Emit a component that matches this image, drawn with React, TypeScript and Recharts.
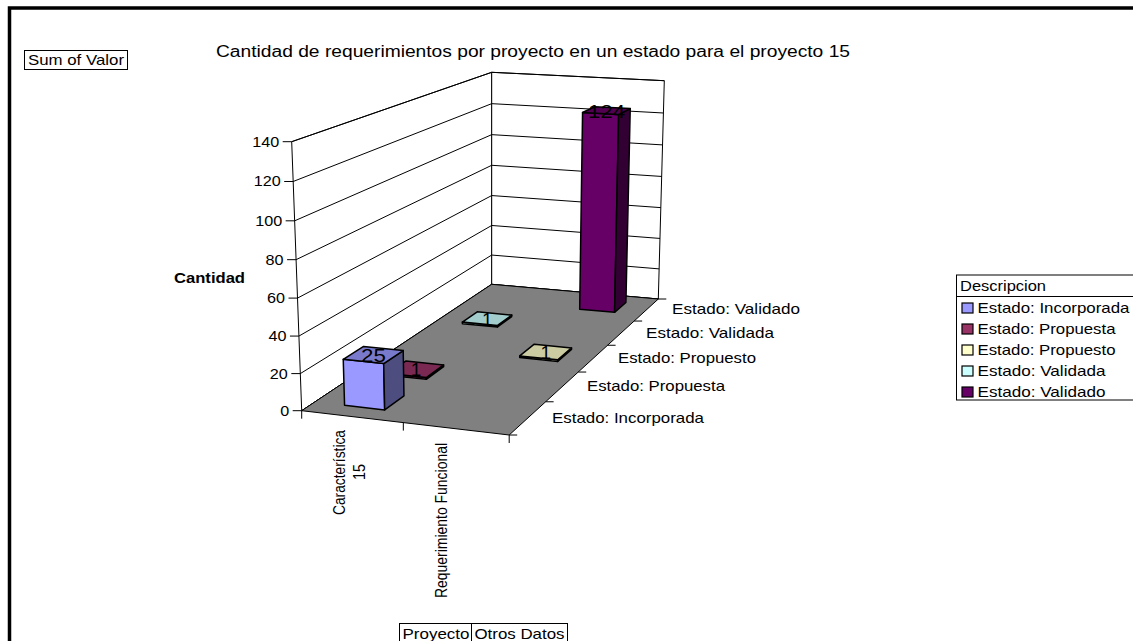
import React from "react";
import { ComposedChart, Bar, XAxis, YAxis, Customized } from "recharts";

const FONT = '"Liberation Sans", Arial, sans-serif';
const CHART_W = 1133;
const CHART_H = 641;

// Pivot table contents
const categories = ["Característica 15", "Requerimiento Funcional"];
const seriesNames = [
  "Estado: Incorporada",
  "Estado: Propuesta",
  "Estado: Propuesto",
  "Estado: Validada",
  "Estado: Validado",
];
const seriesColors = ["#9999FF", "#993366", "#FFFFCC", "#CCFFFF", "#660066"];
const caracteristicaValues = [25, 1, null, 1, null];
const requerimientoValues = [null, null, 1, null, 124];
const valueTicks = [0, 20, 40, 60, 80, 100, 120, 140];
const VALUE_MAX = 140;

const rows = categories.map((name, c) => {
  const source = c === 0 ? caracteristicaValues : requerimientoValues;
  const row: Record<string, string | number | null> = { name };
  seriesNames.forEach((s, i) => {
    row[s] = source[i];
  });
  return row;
});

// Perspective box: the floor and the ceiling planes as quadrilaterals
type Pt = [number, number];
const FLOOR: Pt[] = [
  [301.7, 410.7],
  [509.2, 435],
  [658.3, 299],
  [491.7, 284.3],
];
const CEILING: Pt[] = [
  [291.7, 141.7],
  [510, 156],
  [664.3, 80.7],
  [491.7, 72.3],
];
const PLOT_TOP = 141.7;
const PLOT_BOTTOM = 410.7;
const PLOT_H = PLOT_BOTTOM - PLOT_TOP;
const HEIGHT_BEND = 0.96;

function quadMap(q: Pt[]) {
  const [[x0, y0], [x1, y1], [x2, y2], [x3, y3]] = q;
  const dx1 = x1 - x2;
  const dx2 = x3 - x2;
  const sx = x0 - x1 + x2 - x3;
  const dy1 = y1 - y2;
  const dy2 = y3 - y2;
  const sy = y0 - y1 + y2 - y3;
  const det = dx1 * dy2 - dx2 * dy1;
  const g = (sx * dy2 - dx2 * sy) / det;
  const h = (dx1 * sy - sx * dy1) / det;
  const a = x1 - x0 + g * x1;
  const b = x3 - x0 + h * x3;
  const d = y1 - y0 + g * y1;
  const e = y3 - y0 + h * y3;
  return (u: number, v: number): Pt => {
    const k = g * u + h * v + 1;
    return [(a * u + b * v + x0) / k, (d * u + e * v + y0) / k];
  };
}
const floorAt = quadMap(FLOOR);
const ceilingAt = quadMap(CEILING);

// u: across categories, v: depth through series, w: share of the value range
function project(u: number, v: number, w: number): Pt {
  const f = floorAt(u, v);
  const c = ceilingAt(u, v);
  const t = (HEIGHT_BEND * w) / (1 + (HEIGHT_BEND - 1) * w);
  return [f[0] + (c[0] - f[0]) * t, f[1] + (c[1] - f[1]) * t];
}

const poly = (pts: Pt[]) => pts.map((p) => `${p[0].toFixed(2)},${p[1].toFixed(2)}`).join(" ");

function shade(hex: string, k: number) {
  const n = parseInt(hex.slice(1), 16);
  const ch = (s: number) => Math.round(((n >> s) & 255) * k);
  return `rgb(${ch(16)},${ch(8)},${ch(0)})`;
}

// Stretched chart text keeps the widths of the original layout
function Label(props: any) {
  const { x, y, w, size = 15, weight, anchor, rotate, fill = "#000" } = props;
  return (
    <text
      x={x}
      y={y}
      fontFamily={FONT}
      fontSize={size}
      fontWeight={weight}
      fill={fill}
      textAnchor={anchor}
      textLength={w}
      lengthAdjust={w ? "spacingAndGlyphs" : undefined}
      transform={rotate ? `rotate(${rotate} ${x} ${y})` : undefined}
    >
      {props.children}
    </text>
  );
}

function Walls() {
  const line = (a: Pt, b: Pt, key: string, width = 1) => (
    <line key={key} x1={a[0]} y1={a[1]} x2={b[0]} y2={b[1]} stroke="#000" strokeWidth={width} />
  );
  return (
    <g>
      <polygon
        points={poly([project(0, 0, 0), project(0, 0, 1), project(0, 1, 1), project(0, 1, 0)])}
        fill="#fff"
        stroke="#000"
      />
      <polygon
        points={poly([project(0, 1, 0), project(0, 1, 1), project(1, 1, 1), project(1, 1, 0)])}
        fill="#fff"
        stroke="#000"
      />
      {valueTicks.map((t) => {
        const w = t / VALUE_MAX;
        return (
          <g key={t}>
            {line(project(0, 0, w), project(0, 1, w), `l${t}`)}
            {line(project(0, 1, w), project(1, 1, w), `b${t}`)}
          </g>
        );
      })}
      <polygon
        points={poly([project(0, 0, 0), project(1, 0, 0), project(1, 1, 0), project(0, 1, 0)])}
        fill="#808080"
        stroke="#000"
      />
      {[0, 0.5, 1].map((u) => {
        const p = project(u, 0, 0);
        return line(p, [p[0], p[1] + 8], `c${u}`);
      })}
      {seriesNames.map((_, i) => {
        const p = project(1, i / seriesNames.length, 0);
        return line(p, [p[0] + 8, p[1]], `s${i}`);
      })}
      {line(project(1, 1, 0), [project(1, 1, 0)[0] + 8, project(1, 1, 0)[1]], "sEnd")}
    </g>
  );
}

const depthLabels = [
  { x: 552, y: 423, w: 152 },
  { x: 587, y: 391, w: 138 },
  { x: 618, y: 363, w: 138 },
  { x: 646, y: 338, w: 128 },
  { x: 672, y: 314, w: 128 },
];

function Annotations() {
  const legendTop = 275;
  const legendLeft = 956.5;
  return (
    <g>
      <rect x={9.5} y={8} width={CHART_W} height={CHART_H} fill="none" stroke="#000" strokeWidth={3.5} />
      <Label x={216} y={57} w={634} size={16}>
        Cantidad de requerimientos por proyecto en un estado para el proyecto 15
      </Label>
      <rect x={24.5} y={50.5} width={103} height={19} fill="#fff" stroke="#000" />
      <Label x={28} y={65} w={96}>
        Sum of Valor
      </Label>
      <Label x={174} y={283} w={71} size={14} weight="bold">
        Cantidad
      </Label>
      {seriesNames.map((s, i) => (
        <Label key={s} x={depthLabels[i].x} y={depthLabels[i].y} w={depthLabels[i].w}>
          {s}
        </Label>
      ))}
      <rect x={399.5} y={623.5} width={72} height={24} fill="#fff" stroke="#000" />
      <rect x={471.5} y={623.5} width={96} height={24} fill="#fff" stroke="#000" />
      <Label x={402.5} y={639} w={67}>
        Proyecto
      </Label>
      <Label x={474.5} y={639} w={90}>
        Otros Datos
      </Label>
      <rect x={legendLeft} y={legendTop} width={180} height={125} fill="#fff" stroke="#000" />
      <line x1={legendLeft} y1={296.5} x2={CHART_W} y2={296.5} stroke="#000" />
      <Label x={960} y={291} w={86}>
        Descripcion
      </Label>
      {seriesNames.map((s, i) => {
        const cy = 308 + i * 21;
        return (
          <g key={s}>
            <rect x={962} y={cy - 5} width={11} height={10} fill={seriesColors[i]} stroke="#000" strokeWidth={1.2} />
            <Label x={977.5} y={cy + 5} w={depthLabels[i].w}>
              {s}
            </Label>
          </g>
        );
      })}
    </g>
  );
}

function ValueTick(props: any) {
  const value = props.payload.value;
  const p = project(0, 0, value / VALUE_MAX);
  return (
    <g>
      <line x1={p[0] - 9} y1={p[1]} x2={p[0]} y2={p[1]} stroke="#000" />
      <Label x={p[0] - 12.5} y={p[1] + 5} anchor="end" w={String(value).length * 9} size={14}>
        {value}
      </Label>
    </g>
  );
}

const categoryTicks = [
  [
    { text: "Característica", x: 345, y: 515, w: 85 },
    { text: "15", x: 365, y: 480, w: 16 },
  ],
  [{ text: "Requerimiento Funcional", x: 447, y: 598, w: 155 }],
];

function CategoryTick(props: any) {
  return (
    <g>
      {categoryTicks[props.index].map((t) => (
        <Label key={t.text} x={t.x} y={t.y} w={t.w} size={16} rotate={-90}>
          {t.text}
        </Label>
      ))}
    </g>
  );
}

// One series draws as a box: front, right and top faces in perspective
function Box3D(props: any) {
  const { height, payload, value, seriesIndex, color } = props;
  const amount = Array.isArray(value) ? value[1] : value;
  if (!amount) return null;
  const w = Math.abs(height) / PLOT_H;
  const uC = (categories.indexOf(payload.name) + 0.5) / categories.length;
  const vC = (seriesIndex + 0.5) / seriesNames.length;
  const du = 0.1;
  const dv = 0.045;
  const [u0, u1, v0, v1] = [uC - du, uC + du, vC - dv, vC + dv];
  const top = [project(u0, v0, w), project(u1, v0, w), project(u1, v1, w), project(u0, v1, w)];
  const front = [project(u0, v0, 0), project(u1, v0, 0), top[1], top[0]];
  const right = [project(u1, v0, 0), project(u1, v1, 0), top[2], top[1]];
  const c = top.reduce<Pt>((s, p) => [s[0] + p[0] / 4, s[1] + p[1] / 4], [0, 0]);
  const digits = String(amount).length;
  const edge = { stroke: "#000", strokeWidth: 1.5, strokeLinejoin: "round" as const };
  return (
    <g>
      <polygon points={poly(front)} fill={color} {...edge} />
      <polygon points={poly(right)} fill={shade(color, 0.5)} {...edge} />
      <polygon points={poly(top)} fill={shade(color, 0.8)} {...edge} />
      <Label x={c[0]} y={c[1] + 7} anchor="middle" size={19} w={digits > 1 ? digits * 12.4 : undefined}>
        {amount}
      </Label>
    </g>
  );
}

export default function App() {
  // Series are painted from the back of the floor to the front
  const paintOrder = seriesNames.map((_, i) => seriesNames.length - 1 - i);
  return (
    <div style={{ position: "absolute", left: 0, top: 0, width: CHART_W, height: CHART_H, overflow: "hidden" }}>
      <ComposedChart
        width={CHART_W}
        height={CHART_H}
        data={rows}
        margin={{ top: PLOT_TOP, bottom: CHART_H - PLOT_BOTTOM - 30, left: 232, right: 400 }}
      >
        <Customized component={Walls} />
        <XAxis dataKey="name" height={30} axisLine={false} tickLine={false} tick={CategoryTick} interval={0} />
        <YAxis
          width={60}
          domain={[0, VALUE_MAX]}
          ticks={valueTicks}
          axisLine={false}
          tickLine={false}
          tick={ValueTick}
          interval={0}
        />
        {paintOrder.map((i) => (
          <Bar
            key={seriesNames[i]}
            dataKey={seriesNames[i]}
            isAnimationActive={false}
            fill={seriesColors[i]}
            shape={(p: any) => <Box3D {...p} seriesIndex={i} color={seriesColors[i]} />}
          />
        ))}
        <Customized component={Annotations} />
      </ComposedChart>
    </div>
  );
}
